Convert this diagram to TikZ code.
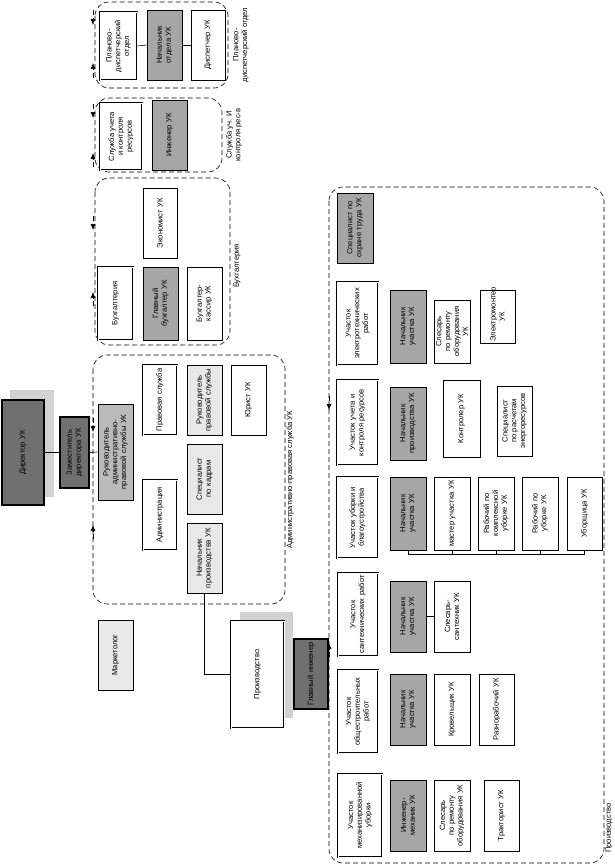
\documentclass[tikz,border=0pt]{standalone}
\usepackage{fontspec}
\setmainfont{Liberation Sans}
\usetikzlibrary{arrows.meta,calc,positioning}
\definecolor{darkbox}{RGB}{112,112,112}
\definecolor{midbox}{RGB}{166,166,166}
\definecolor{lightbox}{RGB}{232,232,232}
\definecolor{shadowbox}{RGB}{210,210,210}
\tikzstyle{unit} = [
  draw, rotate=90, inner sep=1pt, align=center, line width=0.6pt,
  font=\fontsize{7.6}{8.8}\selectfont,
]
\tikzstyle{plain} = [unit, fill=white]
\tikzstyle{dept} = [unit, draw=white, line width=0.8pt,
  preaction={fill=white, draw=black, line width=2.4pt}]
\tikzstyle{chief} = [unit, fill=midbox]
\tikzstyle{staff} = [unit, fill=lightbox]
\tikzstyle{head} = [unit, fill=darkbox, line width=1.2pt]
\tikzstyle{group} = [draw, line width=0.6pt, dash pattern=on 5pt off 3pt, rounded corners=14pt]
\tikzstyle{grouplabel} = [rotate=90, align=center, inner sep=0pt, font=\fontsize{7.6}{8.8}\selectfont]
\tikzstyle{tip} = [line width=0.6pt, dash pattern=on 5pt off 3pt, -{Latex[length=6pt,width=5pt]}]
\newcommand\ubox[7]{%
  \pgfmathsetmacro\bw{#5-#3}\pgfmathsetmacro\bh{#4-#2}%
  \pgfmathsetmacro\tw{#5-#3-3}%
  \node[#6, minimum width=\bw pt, minimum height=\bh pt, text width=\tw pt]
    (#1) at ({(#2+#4)/2},{(#3+#5)/2}) {#7};}
\begin{document}
\begin{tikzpicture}[x=1pt,y=-1pt]
  \useasboundingbox (0,0) rectangle (614,865);
  % groups
  \draw[group] (95,2) rectangle (228,88);
  \draw[group] (95,98) rectangle (222,172);
  \draw[group] (95,178) rectangle (230,345);
  \draw[group] (93,355) rectangle (285,604);
  \draw[group] (329,187) rectangle (604,863);
  \node[grouplabel] (lPlan) at (241,45) {Планово-\\диспетчерский отдел};
  \node[grouplabel] (lRes) at (234,135) {Служба уч. И\\контроля рес-в};
  \node[grouplabel] (lBuh) at (237,266) {Бухгалтерия};
  \node[grouplabel] (lAdm) at (290,480) {Административно-правовая служба УК};
  \node[grouplabel] (lPro) at (609,828) {Производство};
  \foreach \ya/\yb in {10/25,78/63,104/118,167/153,216/230,306/292,418/432,539/525}
    \draw[tip] (93,\ya) -- (93,\yb);
  \draw[tip] (329,396) -- (329,410);
  \draw[tip] (329,657) -- (329,643);
  % director
  \fill[shadowbox] (10,390) rectangle (54,497);
  \fill[shadowbox] (240,612) rectangle (293,718);
  \ubox{dir}{2}{400}{44}{505}{head}{Директор УК}
  \ubox{dep}{60}{417}{89}{488}{head}{Заместитель директора УК}
  \ubox{adm}{98}{404}{133}{500}{staff, fill=midbox!70!lightbox}{Руководитель административно-правовой службы УК}
  \ubox{mark}{98}{620}{133}{690}{staff}{Маркетолог}
  % planning
  \ubox{plan}{100}{12}{137}{80}{dept}{Планово-диспетчерский отдел}
  \ubox{planH}{147}{10}{182}{80}{chief}{Начальник отдела УК}
  \ubox{disp}{191}{10}{225}{80}{plain}{Диспетчер УК}
  % resources
  \ubox{res}{100}{103}{142}{170}{dept}{Служба учета и контроля ресурсов}
  \ubox{eng}{152}{100}{187}{170}{chief}{Инженер УК}
  % accounting
  \ubox{econ}{143}{188}{177}{258}{plain}{Экономист УК}
  \ubox{buh}{98}{267}{133}{340}{dept}{Бухгалтерия}
  \ubox{buhH}{143}{267}{178}{340}{chief}{Главный бухгалтер УК}
  \ubox{cash}{187}{267}{222}{340}{plain}{Бухгалтер-кассир УК}
  % legal
  \ubox{law}{143}{365}{177}{435}{dept}{Правовая служба}
  \ubox{lawH}{187}{365}{222}{435}{staff}{Руководитель правовой службы}
  \ubox{jur}{231}{365}{266}{435}{plain}{Юрист УК}
  \ubox{hr}{187}{444}{222}{514}{staff}{Специалист по кадрам}
  \ubox{admin}{143}{480}{177}{550}{dept}{Администрация}
  \ubox{prodH}{187}{523}{222}{593}{staff}{Начальник производства УК}
  % production
  \ubox{prod}{231}{621}{284}{728}{dept}{Производство}
  \ubox{ceng}{294}{639}{328}{709}{head}{Главный инженер}
  \ubox{safe}{337}{193}{373}{263}{chief}{Специалист по охране труда УК}
  \ubox{sE}{337}{282}{378}{365}{dept}{Участок электротехнических работ}
  \ubox{sE1}{390}{290}{426}{363}{chief}{Начальник участка УК}
  \ubox{sE2}{434}{300}{470}{363}{plain}{Слесарь по ремонту оборудования УК}
  \ubox{sE3}{480}{290}{515}{343}{plain}{Электромонтер УК}
  \ubox{sR}{337}{380}{378}{465}{dept}{Участок учета и контроля ресурсов}
  \ubox{sR1}{390}{387}{426}{460}{chief}{Начальник производства УК}
  \ubox{sR2}{443}{380}{480}{457}{plain}{Контролер УК}
  \ubox{sR3}{497}{386}{532}{456}{plain}{Специалист по расчетам энергоресурсов}
  \ubox{sU}{337}{477}{378}{558}{dept}{Участок уборки и благоустройства}
  \ubox{sU1}{390}{477}{426}{550}{chief}{Начальник участка УК}
  \ubox{sU2}{434}{477}{470}{550}{plain}{мастер участка УК}
  \ubox{sU3}{478}{477}{514}{550}{plain}{Рабочий по комплексной уборке УК}
  \ubox{sU4}{522}{477}{558}{550}{plain}{Рабочий по уборке УК}
  \ubox{sU5}{567}{477}{602}{550}{plain}{Уборщица УК}
  \ubox{sS}{338}{573}{378}{656}{dept}{Участок сантехнических работ}
  \ubox{sS1}{390}{581}{426}{652}{chief}{Начальник участка УК}
  \ubox{sS2}{434}{581}{470}{652}{plain}{Слесарь-сантехник УК}
  \ubox{sO}{338}{670}{378}{753}{dept}{Участок общестроительных работ}
  \ubox{sO1}{390}{674}{426}{745}{chief}{Начальник участка УК}
  \ubox{sO2}{434}{674}{470}{745}{plain}{Кровельщик УК}
  \ubox{sO3}{479}{674}{514}{745}{plain}{Разнорабочий УК}
  \ubox{sM}{338}{774}{382}{857}{dept}{Участок механизированной уборки}
  \ubox{sM1}{390}{780}{426}{851}{chief}{Инженер-механик УК}
  \ubox{sM2}{434}{780}{470}{851}{plain}{Слесарь по ремонту оборудования УК}
  \ubox{sM3}{484}{780}{519}{851}{plain}{Тракторист УК}
  % connectors
  \draw[line width=0.6pt] (dir.south) -- (dep.north);
  \draw[line width=0.6pt] (dep.south) -- (adm.north);
  \draw[line width=0.6pt] (plan.south) -- (planH.north);
  \draw[line width=0.6pt] (planH.south) -- (disp.north);
  \draw[line width=0.6pt] (sS1.south) -- (sS2.north);
  \draw[line width=0.6pt] (prodH.west) |- (prod.north);
  \draw[line width=0.6pt] (sU1.west) -- ++(0,4) -| (sU5.west);
  \foreach \n in {sU2,sU3,sU4} \draw[line width=0.6pt] (\n.west) -- ++(0,4);
\end{tikzpicture}
\end{document}
